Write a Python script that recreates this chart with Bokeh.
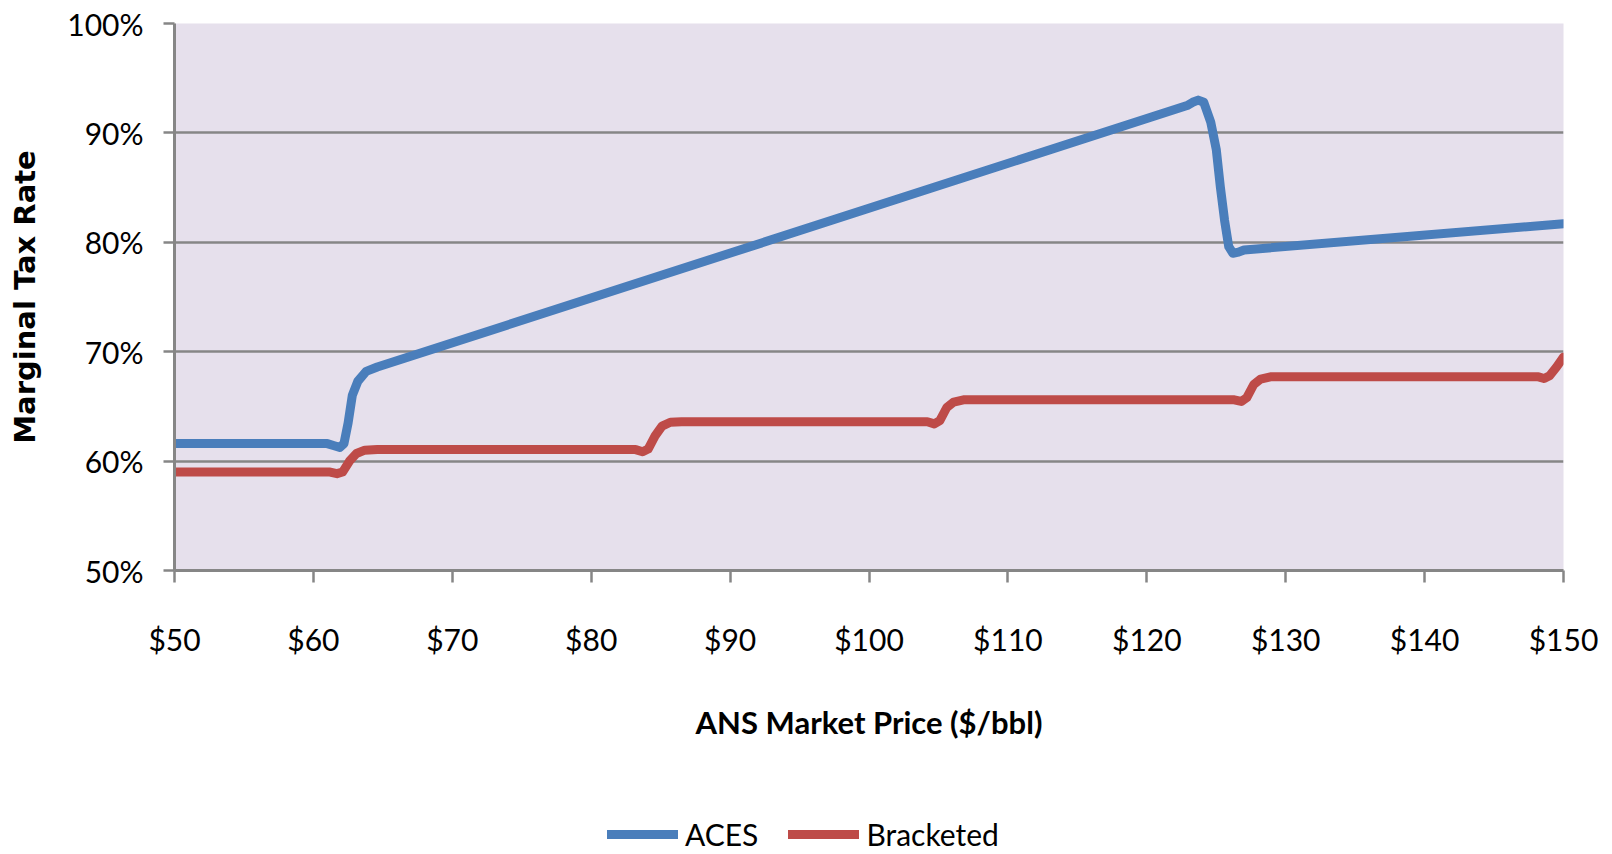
from bokeh.plotting import figure
from bokeh.layouts import column
from bokeh.models import Range1d, PrintfTickFormatter, FixedTicker, Legend, LegendItem
from bokeh.embed import file_html
from bokeh.resources import INLINE

# ---- data ----
aces_price = [50, 61.0, 61.5, 61.9, 62.2, 62.5, 62.8, 63.2, 63.8, 64.6,
              122.9, 123.3, 123.7, 124.1, 124.6, 125.0, 125.3, 125.6, 125.9,
              126.2, 126.6, 127.0, 150]
aces_rate = [61.6, 61.6, 61.4, 61.25, 61.6, 63.5, 66.0, 67.3, 68.2, 68.6,
             92.5, 92.8, 93.0, 92.8, 91.0, 88.5, 85.0, 82.0, 79.6,
             79.0, 79.1, 79.3, 81.7]

brk_price = [50, 61.2, 61.7, 62.1, 62.6, 63.1, 63.7, 64.6,
             83.2, 83.7, 84.1, 84.6, 85.1, 85.7, 86.5,
             104.2, 104.7, 105.1, 105.6, 106.1, 106.8,
             126.3, 126.8, 127.2, 127.7, 128.2, 128.9,
             148.2, 148.6, 149.0, 149.5, 150]
brk_rate = [59.0, 59.0, 58.85, 59.0, 60.0, 60.7, 61.0, 61.05,
            61.05, 60.85, 61.1, 62.3, 63.2, 63.55, 63.6,
            63.6, 63.4, 63.7, 64.9, 65.4, 65.6,
            65.6, 65.45, 65.8, 67.0, 67.5, 67.7,
            67.7, 67.55, 67.8, 68.6, 69.5]

x_ticks = [50, 60, 70, 80, 90, 100, 110, 120, 130, 140, 150]
y_ticks = [50, 60, 70, 80, 90, 100]

series_names = ["ACES", "Bracketed"]
series_colors = ["#4A7EBB", "#BE4B48"]

GREY = "#868686"
FONT = "Lato"
MAIN_H = 790
LEG_H = 854 - MAIN_H

p = figure(width=1612, height=MAIN_H, output_backend="svg", toolbar_location=None,
           x_range=Range1d(50, 150), y_range=Range1d(50, 100),
           min_border_left=174, min_border_right=49, min_border_top=23,
           min_border_bottom=MAIN_H - 570)

p.background_fill_color = "#E6E0EC"
p.border_fill_color = "white"
p.outline_line_color = None

# grid
p.xgrid.grid_line_color = None
p.ygrid.grid_line_color = GREY
p.ygrid.grid_line_width = 2.5
p.ygrid.ticker = FixedTicker(ticks=y_ticks)

# y axis
p.yaxis.ticker = FixedTicker(ticks=y_ticks)
p.yaxis.formatter = PrintfTickFormatter(format="%d%%")
p.yaxis.axis_line_color = GREY
p.yaxis.axis_line_width = 3
p.yaxis.major_tick_line_color = GREY
p.yaxis.major_tick_line_width = 2.5
p.yaxis.major_tick_out = 11
p.yaxis.major_tick_in = 0
p.yaxis.minor_tick_line_color = None
p.yaxis.major_label_text_font = FONT
p.yaxis.major_label_text_font_size = "30px"
p.yaxis.major_label_text_color = "black"
p.yaxis.major_label_standoff = 20
p.yaxis.axis_label = "Marginal Tax Rate"
p.yaxis.axis_label_text_font = "DejaVu Sans"
p.yaxis.axis_label_text_font_style = "bold"
p.yaxis.axis_label_text_font_size = "29px"
p.yaxis.axis_label_text_color = "black"
p.yaxis.axis_label_standoff = 22

# x axis
p.xaxis.ticker = FixedTicker(ticks=x_ticks)
p.xaxis.formatter = PrintfTickFormatter(format="$%d")
p.xaxis.axis_line_color = GREY
p.xaxis.axis_line_width = 3
p.xaxis.major_tick_line_color = GREY
p.xaxis.major_tick_line_width = 2.5
p.xaxis.major_tick_out = 12
p.xaxis.major_tick_in = 0
p.xaxis.minor_tick_line_color = None
p.xaxis.major_label_text_font = FONT
p.xaxis.major_label_text_font_size = "30px"
p.xaxis.major_label_text_color = "black"
p.xaxis.major_label_standoff = 38
p.xaxis.axis_label = "ANS Market Price ($/bbl)"
p.xaxis.axis_label_text_font = FONT
p.xaxis.axis_label_text_font_style = "bold"
p.xaxis.axis_label_text_font_size = "31px"
p.xaxis.axis_label_text_color = "black"
p.xaxis.axis_label_standoff = 43

line_kw = dict(line_width=9, line_cap="round", line_join="round")
p.line(aces_price, aces_rate, line_color=series_colors[0], **line_kw)
p.line(brk_price, brk_rate, line_color=series_colors[1], **line_kw)

# ---- legend strip below the chart (its frame is aligned with the chart's) ----
lg = figure(width=1612, height=LEG_H, output_backend="svg", toolbar_location=None,
            x_range=Range1d(0, 1), y_range=Range1d(0, 1),
            x_axis_type=None, y_axis_type=None,
            min_border_left=0, min_border_right=0, min_border_top=0, min_border_bottom=0)
lg.outline_line_color = None
lg.background_fill_color = "white"
lg.border_fill_color = "white"
lg.xgrid.visible = False
lg.ygrid.visible = False
# same series (outside this strip's ranges, only used for the legend swatches)
l1 = lg.line(aces_price, aces_rate, line_color=series_colors[0], **line_kw)
l2 = lg.line(brk_price, brk_rate, line_color=series_colors[1], **line_kw)

legend = Legend(items=[LegendItem(label=series_names[0], renderers=[l1]),
                       LegendItem(label=series_names[1], renderers=[l2])],
                orientation="horizontal", location=(433, 2),
                padding=0, margin=0, spacing=30, label_standoff=7,
                glyph_width=71, glyph_height=30, label_height=30,
                label_text_font=FONT, label_text_font_size="30px",
                label_text_color="black",
                background_fill_alpha=0, border_line_color=None)
lg.add_layout(legend, "center")

layout = column(p, lg, spacing=0)
open("out.html", "w").write(file_html(layout, INLINE))
